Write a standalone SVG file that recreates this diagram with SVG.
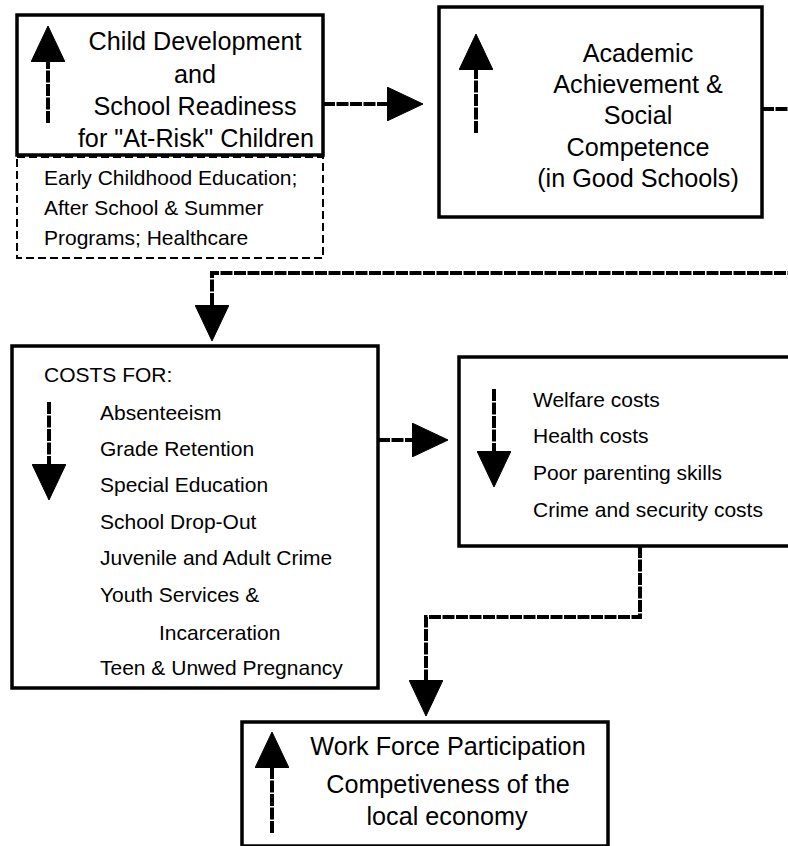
<svg xmlns="http://www.w3.org/2000/svg" width="788" height="846" viewBox="0 0 788 846">
<style>
  .box { fill: #fff; stroke: #000; stroke-width: 3.5; }
  .dbox { fill: #fff; stroke: #000; stroke-width: 2; stroke-dasharray: 8 4; }
  .conn { fill: none; stroke: #000; stroke-width: 4; stroke-dasharray: 12 1.5; marker-end: url(#ah); }
  .t { font-family: "Liberation Sans", Arial, sans-serif; fill: #000; }
  .big { font-size: 25.2px; }
  .sm { font-size: 21px; }
  .c { text-anchor: middle; }
</style>
<defs>
  <marker id="ah" markerUnits="userSpaceOnUse" markerWidth="36" markerHeight="34" refX="0" refY="17" orient="auto" viewBox="0 0 36 34">
    <path d="M0,0 L36,17 L0,34 Z" fill="#000" stroke="#000" stroke-width="1" stroke-linejoin="round"/>
  </marker>
</defs>
<rect width="788" height="846" fill="#fff"/>

<g id="connectors">
  <path class="conn" d="M323,104 H387"/>
  <path class="conn" d="M762,109 H800 V273 H212 V305"/>
  <path class="conn" d="M378,440 H412"/>
  <path class="conn" d="M640,546 V617 H426 V680"/>
</g>

<g id="child-development">
  <rect class="box" x="17" y="15" width="306" height="140"/>
  <path class="conn" d="M48,123 V62"/>
  <text class="t big c" x="195" y="50">Child Development</text>
  <text class="t big c" x="195" y="83">and</text>
  <text class="t big c" x="195" y="115">School Readiness</text>
  <text class="t big c" x="196" y="147">for "At-Risk" Children</text>
</g>

<g id="programs">
  <rect class="dbox" x="17" y="157" width="306" height="101"/>
  <text class="t sm" x="44" y="185">Early Childhood Education;</text>
  <text class="t sm" x="44" y="215">After School &amp; Summer</text>
  <text class="t sm" x="44" y="245">Programs; Healthcare</text>
</g>

<g id="academic">
  <rect class="box" x="439" y="7" width="323" height="210"/>
  <path class="conn" d="M476,133 V70"/>
  <text class="t big c" x="638" y="62">Academic</text>
  <text class="t big c" x="638" y="93">Achievement &amp;</text>
  <text class="t big c" x="638" y="124">Social</text>
  <text class="t big c" x="638" y="156">Competence</text>
  <text class="t big c" x="638" y="187">(in Good Schools)</text>
</g>

<g id="costs">
  <rect class="box" x="12" y="346" width="366" height="342"/>
  <path class="conn" d="M49,402 V464"/>
  <text class="t sm" x="44" y="382">COSTS FOR:</text>
  <text class="t sm" x="100" y="420">Absenteeism</text>
  <text class="t sm" x="100" y="456">Grade Retention</text>
  <text class="t sm" x="100" y="492">Special Education</text>
  <text class="t sm" x="100" y="529">School Drop-Out</text>
  <text class="t sm" x="100" y="565">Juvenile and Adult Crime</text>
  <text class="t sm" x="100" y="602">Youth Services &amp;</text>
  <text class="t sm" x="159" y="640">Incarceration</text>
  <text class="t sm" x="100" y="675">Teen &amp; Unwed Pregnancy</text>
</g>

<g id="social-costs">
  <rect class="box" x="459" y="357" width="340" height="189"/>
  <path class="conn" d="M494,389 V451"/>
  <text class="t sm" x="533" y="407">Welfare costs</text>
  <text class="t sm" x="533" y="443">Health costs</text>
  <text class="t sm" x="533" y="480">Poor parenting skills</text>
  <text class="t sm" x="533" y="517">Crime and security costs</text>
</g>

<g id="workforce">
  <rect class="box" x="242" y="722" width="366" height="124"/>
  <path class="conn" d="M272,833 V768"/>
  <text class="t big c" x="448" y="755">Work Force Participation</text>
  <text class="t big c" x="448" y="793">Competiveness of the</text>
  <text class="t big c" x="447" y="825">local economy</text>
</g>
</svg>
